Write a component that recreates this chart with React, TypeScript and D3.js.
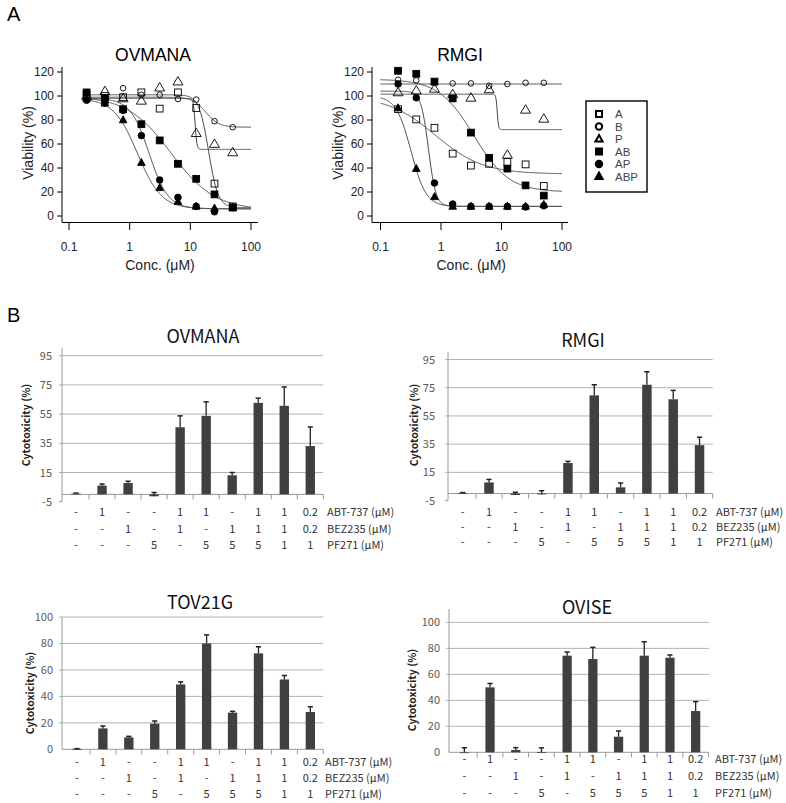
import React from 'react';
import * as d3 from 'd3';

// ---------- Panel A data ----------
const conc = [0.195, 0.39, 0.78, 1.56, 3.125, 6.25, 12.5, 25, 50];
const comboNames = ['A', 'B', 'P', 'AB', 'AP', 'ABP'];
const axisTicksA = [0.1, 1, 10, 100];
const yTicksA = [0, 20, 40, 60, 80, 100, 120];

const ovmanaA = [101, 100, 99, 103, 89.5, 103, 90, 27, 8];
const ovmanaB = [100, 99, 106.5, 101, 101, 97.5, 97, 79, 74];
const ovmanaP = [100, 104, 98, 96, 107, 112, 69, 60, 53];
const ovmanaAB = [103, 98, 89, 76.5, 63, 43.5, 31, 18, 7];
const ovmanaAP = [96.5, 94, 88, 67, 30, 15.5, 8, 3.5, 7];
const ovmanaABP = [98, 94, 80, 44.5, 23.5, 12, 8, 6.5, 7];

// fit parameters: [top, bottom, IC50, hill]
const ovmanaFitA = [101, 7, 20, 5.5];
const ovmanaFitB = [99, 74, 18, 4];
const ovmanaFitP = [98, 55.5, 12, 30];
const ovmanaFitAB = [100, 5, 4.8, 1.2];
const ovmanaFitAP = [98, 6, 2.1, 2.8];
const ovmanaFitABP = [98, 6, 1.35, 2.2];

const rmgiA = [89, 80.5, 73.5, 52, 42, 43.5, 45, 43, 25];
const rmgiB = [113.5, 113, 111, 110.5, 110.5, 108.5, 110, 111, 111];
const rmgiP = [103, 104.5, 106, 101.5, 98.5, 105.5, 51, 88.5, 81];
const rmgiAB = [121, 118.5, 112, 98, 69.5, 48.5, 39.5, 25.5, 17];
const rmgiAP = [110, 98.5, 27.5, 10, 8, 8, 8, 7.5, 8.5];
const rmgiABP = [90, 39.5, 16, 8, 8, 8, 8, 8, 9.5];

const rmgiFitA = [100, 35, 0.8, 1.1];
const rmgiFitB = [110, 110, 1, 1];
const rmgiFitP = [101.5, 72, 8.5, 40];
const rmgiFitAB = [114, 20, 3.5, 1.5];
const rmgiFitAP = [104, 8, 0.62, 7];
const rmgiFitABP = [100, 8, 0.32, 3.5];

// ---------- Panel B data ----------
const rowNames = ['ABT-737 (\u03bcM)', 'BEZ235 (\u03bcM)', 'PF271 (\u03bcM)'];
const abtDose = ['-', '1', '-', '-', '1', '1', '-', '1', '1', '0.2'];
const bezDose = ['-', '-', '1', '-', '1', '-', '1', '1', '1', '0.2'];
const pfDose = ['-', '-', '-', '5', '-', '5', '5', '5', '1', '1'];

const ovmanaCyto = [0.5, 6, 7.8, -1.3, 46, 53.8, 13.1, 62.7, 60.7, 33.1];
const ovmanaErr = [0.4, 1.1, 1.2, 2.6, 7.8, 9.6, 1.9, 3.2, 12.9, 13.1];
const rmgiCyto = [0.3, 7.9, -1, -0.6, 21.6, 69.6, 4.4, 77.1, 66.8, 34.3];
const rmgiErr = [0.4, 2.1, 1.9, 2.6, 1.2, 7.5, 3.1, 9.2, 6.3, 5.6];
const tov21gCyto = [0.3, 15.8, 9, 19.4, 49, 80, 27.7, 72.5, 52.8, 28.2];
const tov21gErr = [0.2, 1.8, 0.8, 2, 2, 6.5, 1, 5, 3, 4];
const oviseCyto = [0, 50, 1.8, 0.2, 74.4, 71.8, 12, 74.4, 72.8, 31.8];
const oviseErr = [3.5, 3, 1.8, 3.2, 2.8, 9, 4.4, 10.7, 2.1, 7.2];
const ticksB1 = [95, 75, 55, 35, 15, -5];
const ticksB2 = [100, 80, 60, 40, 20, 0];

const FONT_A = "'Liberation Sans', Arial, sans-serif";
const FONT_B = "'Noto Sans CJK KR', 'Noto Sans', sans-serif";
const CONC_LABEL = 'Conc. (\u03bcM)';

const hillFn = (p: number[], x: number) => p[1] + (p[0] - p[1]) / (1 + Math.pow(x / p[2], p[3]));

function marker(kind: string, cx: number, cy: number, key: string, legend = false) {
  const open = kind === 'A' || kind === 'B' || kind === 'P';
  const fill = open ? 'none' : '#000';
  const sw = legend ? 2 : 0.9;
  const shape = kind === 'A' || kind === 'AB' ? 'sq' : kind === 'B' || kind === 'AP' ? 'ci' : 'tr';
  if (shape === 'sq') {
    const h = legend ? 3 : 3.4;
    return <rect key={key} x={cx - h} y={cy - h} width={2 * h} height={2 * h} fill={fill} stroke="#000" strokeWidth={sw} />;
  }
  if (shape === 'ci') {
    const r = legend ? 3.2 : open ? 2.8 : 3.3;
    return <circle key={key} cx={cx} cy={cy} r={r} fill={fill} stroke="#000" strokeWidth={sw} />;
  }
  const w = legend ? 3.6 : open ? 5 : 3.8;
  const h = legend ? 6.5 : open ? 8.4 : 7;
  const d = `M${cx},${cy - h * 0.6}L${cx + w},${cy + h * 0.4}L${cx - w},${cy + h * 0.4}Z`;
  return <path key={key} d={d} fill={fill} stroke="#000" strokeWidth={sw} strokeLinejoin="miter" />;
}

function DoseChart(props: any) {
  const { title, ox, xRange, curveStart, data, fits, titleX } = props;
  const x = d3.scaleLog().domain([0.1, 100]).range(xRange);
  const y = d3.scaleLinear().domain([0, 120]).range([216, 72]);
  const axisX = ox + 62;
  const samples = d3.range(0, 501).map((i) => Math.pow(10, Math.log10(curveStart) + (i / 500) * (2 - Math.log10(curveStart))));
  return (
    <g>
      <text x={titleX} y={61} textAnchor="middle" fontFamily={FONT_A} fontSize={17.5} fill="#000">{title}</text>
      <line x1={axisX} x2={axisX} y1={67} y2={222.5} stroke="#000" strokeWidth={1} />
      {yTicksA.map((t) => (
        <g key={'yt' + t}>
          <line x1={axisX - 5} x2={axisX} y1={y(t)} y2={y(t)} stroke="#000" />
          <text x={axisX - 8} y={y(t) + 4} textAnchor="end" fontFamily={FONT_A} fontSize={12} fill="#222">{t}</text>
        </g>
      ))}
      <line x1={axisX} x2={ox + 258} y1={222.5} y2={222.5} stroke="#000" strokeWidth={1} />
      {axisTicksA.map((t) => (
        <g key={'xt' + t}>
          <line x1={x(t)} x2={x(t)} y1={222.5} y2={230} stroke="#000" />
          <text x={x(t)} y={251} textAnchor="middle" fontFamily={FONT_A} fontSize={12} fill="#222">{t}</text>
        </g>
      ))}
      <text x={(xRange[0] + xRange[1]) / 2} y={270} textAnchor="middle" fontFamily={FONT_A} fontSize={14} fill="#222">{CONC_LABEL}</text>
      <text transform={`translate(${ox + 33},${143}) rotate(-90)`} textAnchor="middle" fontFamily={FONT_A} fontSize={14} fill="#222">Viability (%)</text>
      {fits.map((p: number[], k: number) => {
        const path = d3.line<number>().x((c) => x(c)).y((c) => y(hillFn(p, c)))(samples);
        return <path key={'c' + k} d={path || ''} fill="none" stroke="#444" strokeWidth={1} />;
      })}
      {data.map((vals: number[], k: number) =>
        vals.map((v, i) => marker(comboNames[k], x(conc[i]), y(v), `m${k}-${i}`))
      )}
    </g>
  );
}

function BarChart(props: any) {
  const { cfg, values, errs } = props;
  const y = d3.scaleLinear().domain(cfg.yDomain).range(cfg.yRange);
  const cats = d3.range(values.length).map(String);
  const xb = d3.scaleBand().domain(cats).range([cfg.bandStart, cfg.bandEnd]).padding(0);
  const bw = xb.bandwidth() * 0.36;
  const zeroY = y(0);
  const rows = [abtDose, bezDose, pfDose];
  return (
    <g>
      <text x={cfg.titleX} y={cfg.titleY} textAnchor="middle" fontFamily={FONT_B} fontSize={18} fill="#111">{cfg.title}</text>
      {cfg.ticks.map((t: number) => (
        <g key={'g' + t}>
          {t !== cfg.yDomain[0] && (
            <line x1={cfg.axisX - 3} x2={cfg.gridEnd} y1={y(t)} y2={y(t)} stroke="#b3b3b3" strokeWidth={1} />
          )}
          {t === cfg.yDomain[0] && t !== 0 && (
            <line x1={cfg.axisX - 3} x2={cfg.axisX} y1={y(t)} y2={y(t)} stroke="#999" strokeWidth={1} />
          )}
          <text x={cfg.tickRight} y={y(t) + 4} textAnchor="end" fontFamily={FONT_B} fontSize={11} fill="#595959">{t}</text>
        </g>
      ))}
      <line x1={cfg.axisX} x2={cfg.axisX} y1={cfg.axisTop} y2={y(cfg.yDomain[0])} stroke="#999" strokeWidth={1} />
      <line x1={cfg.axisX} x2={cfg.gridEnd} y1={zeroY} y2={zeroY} stroke="#999" strokeWidth={1} />
      {cats.map((c, i) => (
        <line key={'bt' + i} x1={(xb(c) as number) + xb.bandwidth()} x2={(xb(c) as number) + xb.bandwidth()} y1={zeroY} y2={zeroY + 5} stroke="#999" />
      ))}
      <text transform={`translate(${cfg.yLabelX},${cfg.yLabelY}) rotate(-90)`} textAnchor="middle" fontFamily={FONT_B} fontWeight="bold" fontSize={10.5} fill="#222">Cytotoxicity (%)</text>
      {values.map((v: number, i: number) => {
        const cx = (xb(cats[i]) as number) + xb.bandwidth() / 2;
        const top = y(Math.max(v, 0));
        const bot = y(Math.min(v, 0));
        const ey = y(v + errs[i]);
        return (
          <g key={'b' + i}>
            <rect x={cx - bw / 2} y={top} width={bw} height={Math.max(bot - top, 0.8)} fill="#404040" />
            <line x1={cx} x2={cx} y1={y(v)} y2={ey} stroke="#222" strokeWidth={1.3} />
            <line x1={cx - 2.6} x2={cx + 2.6} y1={ey} y2={ey} stroke="#222" strokeWidth={1.5} />
          </g>
        );
      })}
      {rows.map((r, ri) => (
        <g key={'r' + ri}>
          {r.map((s, i) => (
            <text key={i} x={(xb(cats[i]) as number) + xb.bandwidth() / 2} y={cfg.rowY[ri] + 4} textAnchor="middle" fontFamily={FONT_B} fontSize={11} fill="#333">{s}</text>
          ))}
          <text x={cfg.rowLabelX} y={cfg.rowY[ri] + 4} fontFamily={FONT_B} fontSize={11} fill="#333">{rowNames[ri]}</text>
        </g>
      ))}
    </g>
  );
}

export default function App() {
  const ovData = [ovmanaA, ovmanaB, ovmanaP, ovmanaAB, ovmanaAP, ovmanaABP];
  const ovFits = [ovmanaFitA, ovmanaFitB, ovmanaFitP, ovmanaFitAB, ovmanaFitAP, ovmanaFitABP];
  const rmData = [rmgiA, rmgiB, rmgiP, rmgiAB, rmgiAP, rmgiABP];
  const rmFits = [rmgiFitA, rmgiFitB, rmgiFitP, rmgiFitAB, rmgiFitAP, rmgiFitABP];

  const cfgOv = { title: 'OVMANA', titleX: 203, titleY: 343, yDomain: [-5, 95], yRange: [501.7, 355.7], ticks: ticksB1, axisX: 62, axisTop: 348, bandStart: 63, bandEnd: 323.3, gridEnd: 323.3, yLabelX: 30, yLabelY: 425, tickRight: 52, rowY: [512.3, 529, 545], rowLabelX: 327 };
  const cfgRm = { title: 'RMGI', titleX: 583, titleY: 347, yDomain: [-5, 95], yRange: [500.6, 359.5], ticks: ticksB1, axisX: 448, axisTop: 352, bandStart: 449.5, bandEnd: 712.7, gridEnd: 712.7, yLabelX: 418, yLabelY: 425, tickRight: 435, rowY: [511.7, 526.7, 541.7], rowLabelX: 716 };
  const cfgTo = { title: 'TOV21G', titleX: 200, titleY: 609, yDomain: [0, 100], yRange: [749.3, 617], ticks: ticksB2, axisX: 62, axisTop: 617, bandStart: 64, bandEnd: 323.3, gridEnd: 323.3, yLabelX: 34, yLabelY: 693, tickRight: 53, rowY: [761.7, 777.7, 794], rowLabelX: 325 };
  const cfgOi = { title: 'OVISE', titleX: 587, titleY: 614, yDomain: [0, 100], yRange: [752.3, 622.4], ticks: ticksB2, axisX: 449, axisTop: 609, bandStart: 451.5, bandEnd: 708.5, gridEnd: 709, yLabelX: 416, yLabelY: 690, tickRight: 440, rowY: [759, 776, 792.5], rowLabelX: 715 };

  return (
    <svg width={786} height={803} style={{ position: 'absolute', left: 0, top: 0, background: '#fff' }}>
      <rect x={0} y={0} width={786} height={803} fill="#fff" />
      <text x={7} y={21} fontFamily={FONT_A} fontSize={20} fill="#000">A</text>
      <text x={7} y={322} fontFamily={FONT_A} fontSize={20} fill="#000">B</text>
      <DoseChart title="OVMANA" titleX={153} ox={0} xRange={[69, 251]} curveStart={0.17} data={ovData} fits={ovFits} />
      <DoseChart title="RMGI" titleX={460} ox={310} xRange={[380.5, 562]} curveStart={0.1} data={rmData} fits={rmFits} />
      <g>
        <rect x={586} y={101} width={61} height={91} fill="none" stroke="#111" strokeWidth={1.5} />
        {comboNames.map((n, i) => (
          <g key={'lg' + n}>
            {marker(n, 599, 114 + i * 12.5, 'lm' + n, true)}
            <text x={615} y={114 + i * 12.5 + 4} fontFamily={FONT_A} fontSize={11.5} fill="#444">{n}</text>
          </g>
        ))}
      </g>
      <BarChart cfg={cfgOv} values={ovmanaCyto} errs={ovmanaErr} />
      <BarChart cfg={cfgRm} values={rmgiCyto} errs={rmgiErr} />
      <BarChart cfg={cfgTo} values={tov21gCyto} errs={tov21gErr} />
      <BarChart cfg={cfgOi} values={oviseCyto} errs={oviseErr} />
    </svg>
  );
}
